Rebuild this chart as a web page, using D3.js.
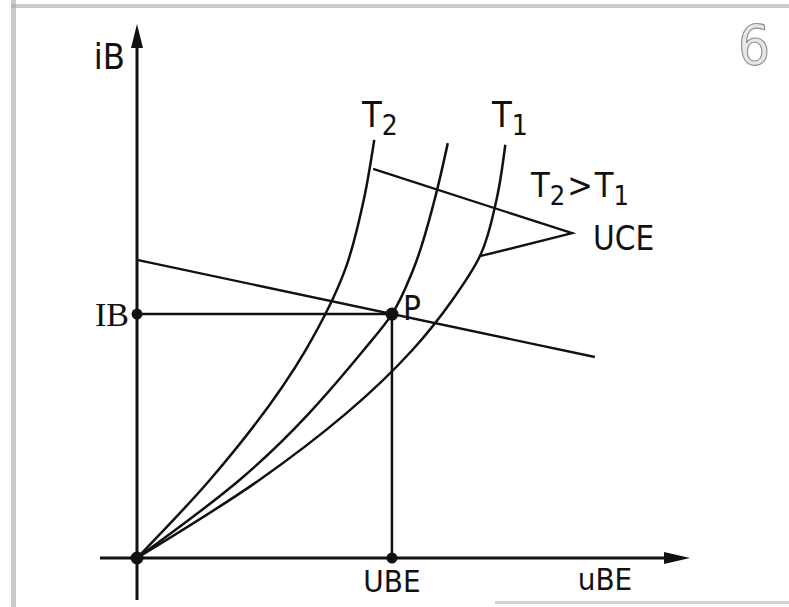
<!DOCTYPE html>
<html>
<head>
<meta charset="utf-8">
<script src="https://cdn.jsdelivr.net/npm/d3@7"></script>
<style>
  html, body { margin: 0; padding: 0; background: #fff; }
  svg { display: block; }
  .lbl { font-family: "DejaVu Sans Condensed", "Liberation Sans Narrow", "DejaVu Sans", sans-serif; font-stretch: condensed; fill: #111; }
</style>
</head>
<body>
<script>
// Input characteristic iB = f(uBE) of a transistor at two temperatures (T2 > T1)
const uBE_T2  = [0, 13.2, 30.5, 37.6, 41.0, 42.9];
const iB_T2   = [0, 14.6, 38.8, 53.7, 66.8, 78.0];
const uBE_mid = [0, 18.6, 41.0, 46.1, 49.9, 53.8, 56.2];
const iB_mid  = [0, 14.6, 38.8, 45.5, 53.7, 66.8, 77.4];
const uBE_T1  = [0, 22.2, 49.8, 57.0, 62.0, 65.0, 66.6];
const iB_T1   = [0, 14.6, 38.8, 48.1, 56.3, 66.8, 77.1];

// operating point P
const opPoint = { uBE: 46.1, iB: 45.5 };
// load line through P
const loadLineU = [0, 82.8];
const loadLineI = [55.6, 37.5];
// UCE parameter pointer lines
const uceU = [42.7, 78.7, 62.0];
const uceI = [72.6, 60.6, 56.3];

const W = 789, H = 607;
const svg = d3.select("body").append("svg").attr("width", W).attr("height", H);

const x = d3.scaleLinear().domain([0, 100]).range([137, 690]);
const y = d3.scaleLinear().domain([0, 100]).range([558, 22]);

// scanned page frame
const frame = svg.append("g").attr("fill", "#a8a8a8");
frame.append("rect").attr("x", 11).attr("y", 0).attr("width", 5).attr("height", H).attr("opacity", 0.6);
frame.append("rect").attr("x", 11).attr("y", 4).attr("width", W - 11).attr("height", 4).attr("opacity", 0.6);
frame.append("rect").attr("x", 495).attr("y", 601).attr("width", W - 495).attr("height", 3).attr("opacity", 0.5);

// page number
svg.append("text").attr("class", "lbl").attr("x", 754).attr("y", 64)
  .attr("text-anchor", "middle").attr("font-size", 56)
  .style("fill", "#e6e6e6").style("stroke", "#909090").style("stroke-width", 1.1)
  .text("6");

const ink = "#111";

// axes
svg.append("line").attr("x1", x(0)).attr("x2", x(0)).attr("y1", 600).attr("y2", y(100) + 10)
  .attr("stroke", ink).attr("stroke-width", 3);
svg.append("path").attr("d", `M${x(0)},${y(100) + 2} L${x(0) - 6},${y(100) + 26} L${x(0) + 6},${y(100) + 26} Z`).attr("fill", ink);
svg.append("line").attr("x1", 100).attr("x2", x(100) - 20).attr("y1", y(0)).attr("y2", y(0))
  .attr("stroke", ink).attr("stroke-width", 3);
svg.append("path").attr("d", `M${x(100)},${y(0)} L${x(100) - 26},${y(0) - 6} L${x(100) - 26},${y(0) + 6} Z`).attr("fill", ink);

// characteristic curves
const line = d3.line().x(d => x(d[0])).y(d => y(d[1])).curve(d3.curveMonotoneY);
[[uBE_T2, iB_T2], [uBE_mid, iB_mid], [uBE_T1, iB_T1]].forEach(([u, i]) => {
  svg.append("path").datum(d3.zip(u, i)).attr("d", line)
    .attr("fill", "none").attr("stroke", ink).attr("stroke-width", 2.5);
});

// load line and UCE pointer
const straight = d3.line().x(d => x(d[0])).y(d => y(d[1]));
svg.append("path").datum(d3.zip(loadLineU, loadLineI)).attr("d", straight)
  .attr("fill", "none").attr("stroke", ink).attr("stroke-width", 2.3);
svg.append("path").datum(d3.zip(uceU, uceI)).attr("d", straight)
  .attr("fill", "none").attr("stroke", ink).attr("stroke-width", 2.3).attr("stroke-linejoin", "miter");

// projections of P
svg.append("line").attr("x1", x(0)).attr("x2", x(opPoint.uBE)).attr("y1", y(opPoint.iB)).attr("y2", y(opPoint.iB))
  .attr("stroke", ink).attr("stroke-width", 2.5);
svg.append("line").attr("x1", x(opPoint.uBE)).attr("x2", x(opPoint.uBE)).attr("y1", y(opPoint.iB)).attr("y2", y(0))
  .attr("stroke", ink).attr("stroke-width", 2.5);

// dots
[[0, 0, 6.5], [0, opPoint.iB, 5.5], [opPoint.uBE, opPoint.iB, 6.5], [opPoint.uBE, 0, 5.5]].forEach(([u, i, r]) => {
  svg.append("circle").attr("cx", x(u)).attr("cy", y(i)).attr("r", r).attr("fill", ink);
});

// labels
function label(tx, ty, size, text, anchor) {
  return svg.append("text").attr("class", "lbl").attr("x", tx).attr("y", ty)
    .attr("font-size", size).attr("text-anchor", anchor || "start").text(text);
}
label(x(0) - 12, 69, 36, "iB", "end");
label(x(0) - 8, y(opPoint.iB) + 12, 34, "IB", "end").style("font-family", "Liberation Serif, serif");
label(x(opPoint.uBE) + 11, y(opPoint.iB) + 6, 33, "P");
label(x(opPoint.uBE), 592, 31, "UBE", "middle");
label(605, 590, 31, "uBE", "middle");

function tLabel(tx, ty, sub) {
  const t = label(tx, ty, 36, "T");
  t.append("tspan").attr("font-size", 28).attr("dy", 8).text(sub);
  return t;
}
tLabel(362, 127, "2");
tLabel(492, 127, "1");
const rel = label(531, 197, 34, "T");
rel.append("tspan").attr("font-size", 27).attr("dy", 8).text("2");
rel.append("tspan").attr("font-size", 34).attr("dy", -8).attr("dx", 2).text(">");
rel.append("tspan").attr("font-size", 34).attr("dx", 2).text("T");
rel.append("tspan").attr("font-size", 27).attr("dy", 8).text("1");
label(593, 250, 33, "UCE");
</script>
</body>
</html>
